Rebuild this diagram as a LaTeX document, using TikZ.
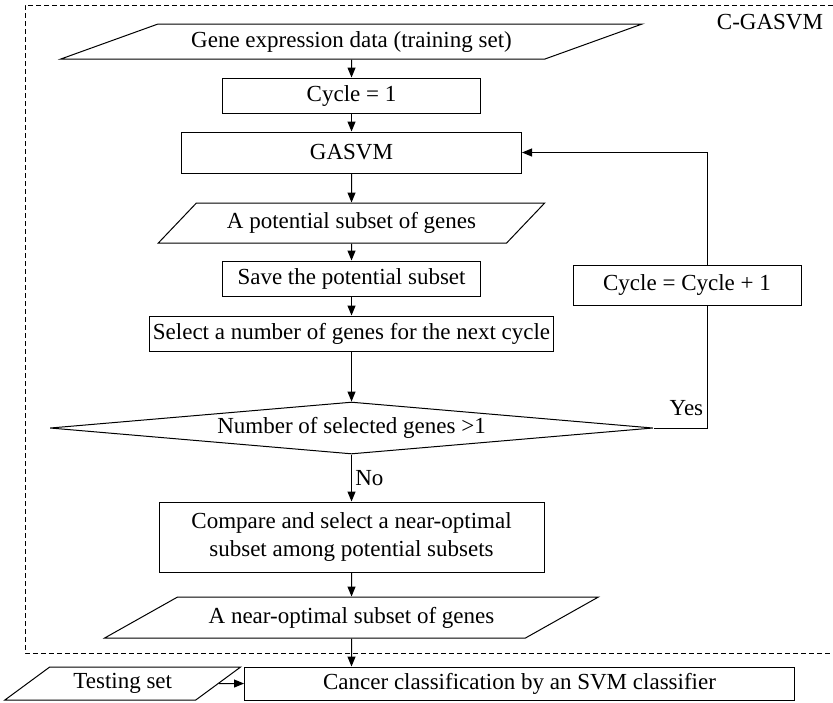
\documentclass[tikz,border=0pt]{standalone}
\usepackage{fontspec}
\setmainfont{Liberation Serif}
\usepackage{tikz}
\usetikzlibrary{shapes.geometric,arrows.meta,positioning}

\begin{document}
\begin{tikzpicture}[
    x=1pt, y=-1pt,
    font=\fontsize{23}{28}\selectfont,
    procbox/.style={rectangle, draw, line width=1pt, minimum height=35pt, inner sep=3pt, align=center},
    iobox/.style={trapezium, draw, line width=1pt, trapezium stretches=true, inner sep=2pt},
    decision/.style={diamond, draw, line width=1pt, inner sep=0pt, aspect=11.6},
    flow/.style={-{Triangle[length=10pt,width=8pt]}, line width=1pt},
    loopline/.style={line width=1pt},
    frame/.style={line width=0.8pt, dash pattern=on 5pt off 3pt}
]
    \useasboundingbox (0,0) rectangle (833,702);

    % Outer frame
    \draw[frame] (833,5) -- (25,5) -- (25,653) -- (833,653);
    \node (cgasvm) at (770,22) {C-GASVM};

    % Main chain
    \node[iobox, trapezium left angle=17, trapezium right angle=163, minimum width=583pt, minimum height=35pt] (gene) at (351.5,41.5) {Gene expression data (training set)};
    \node[procbox, minimum width=258pt, below=18pt of gene] (cycleone) {Cycle = 1};
    \node[procbox, minimum width=340pt, minimum height=41pt, below=18pt of cycleone] (gasvm) {GASVM};
    \node[iobox, trapezium left angle=39, trapezium right angle=141, minimum width=388pt, minimum height=40pt, below=29pt of gasvm] (potential) {A potential subset of genes};
    \node[procbox, minimum width=258pt, below=17pt of potential] (save) {Save the potential subset};
    \node[procbox, minimum width=289pt, below=19pt of save] (select) {Select a number of genes for the next cycle};
    \node[decision, minimum width=603pt, minimum height=52pt, below=50pt of select] (decide) {Number of selected genes >1};
    \node[procbox, minimum width=385pt, minimum height=70pt, below=47pt of decide] (compare) {Compare and select a near-optimal\\subset among potential subsets};
    \node[iobox, trapezium left angle=22.5, trapezium right angle=157.5, minimum width=495pt, minimum height=41pt, below=24pt of compare] (nearopt) {A near-optimal subset of genes};

    % Outside the frame
    \node[procbox, minimum width=550pt, minimum height=33pt, below=28pt of nearopt, xshift=168pt] (cancer) {Cancer classification by an SVM classifier};
    \node[iobox, trapezium left angle=37.5, trapezium right angle=142.5, minimum width=236pt, minimum height=33pt, left=25pt of cancer] (testing) {Testing set};

    % Loop
    \node[procbox, minimum width=228pt, minimum height=40pt] (cycleinc) at (687,285) {Cycle = Cycle + 1};
    \coordinate (loopx) at (707,0);

    % Arrows
    \draw[flow] (gene) -- (cycleone);
    \draw[flow] (cycleone) -- (gasvm);
    \draw[flow] (gasvm) -- (potential);
    \draw[flow] (potential) -- (save);
    \draw[flow] (save) -- (select);
    \draw[flow] (select) -- (decide);
    \draw[flow] (decide) -- node[right] {No} (compare);
    \draw[flow] (compare) -- (nearopt);
    \draw[flow] (nearopt) -- (nearopt |- cancer.north);
    \draw[flow] (testing) -- (cancer);
    \draw[loopline] (decide.east) -- (decide.east -| loopx) node[above left, yshift=8pt] {Yes} -- (cycleinc.south -| loopx);
    \draw[flow] (cycleinc.north -| loopx) |- (gasvm.east);
\end{tikzpicture}
\end{document}
